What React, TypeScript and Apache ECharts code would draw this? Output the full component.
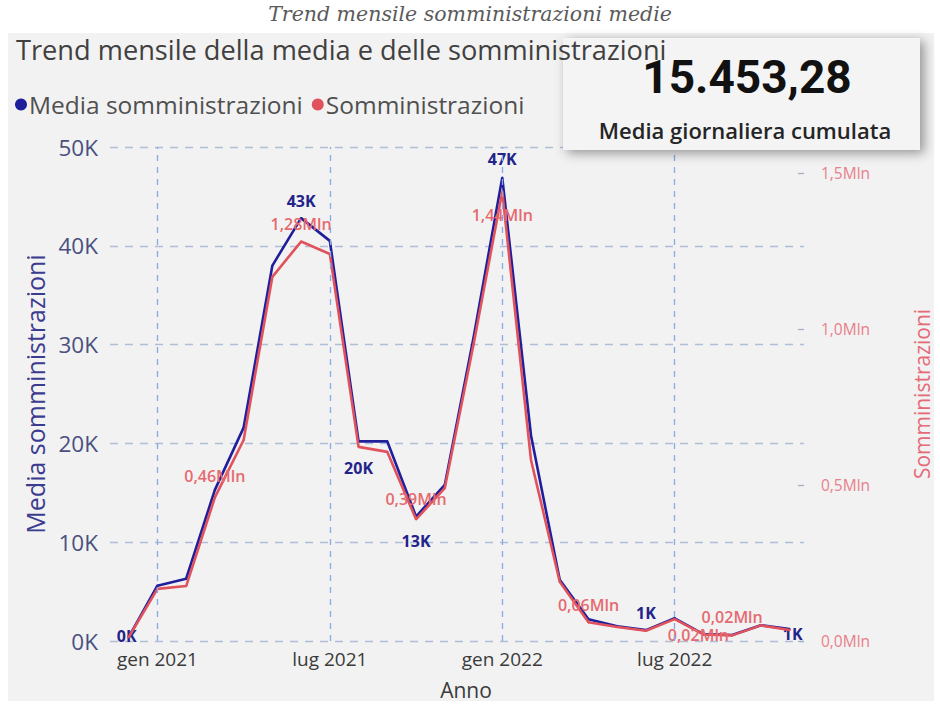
import React, { useEffect, useRef } from "react";
import * as echarts from "echarts";

// Month index: gen 2021 = 0
const monthIndex = [-1, 0, 1, 2, 3, 4, 5, 6, 7, 8, 9, 10, 11, 12, 13, 14, 15, 16, 17, 18, 19, 20, 21, 22];
const monthNames = [
  "dic 2020", "gen 2021", "feb 2021", "mar 2021", "apr 2021", "mag 2021", "giu 2021", "lug 2021",
  "ago 2021", "set 2021", "ott 2021", "nov 2021", "dic 2021", "gen 2022", "feb 2022", "mar 2022",
  "apr 2022", "mag 2022", "giu 2022", "lug 2022", "ago 2022", "set 2022", "ott 2022", "nov 2022",
];
// Media somministrazioni (thousands)
const mediaK = [0.4, 5.6, 6.3, 15.3, 21.6, 38.0, 42.8, 40.5, 20.2, 20.2, 12.6, 15.8, 30.7, 46.9, 20.8, 6.2, 2.2, 1.5, 1.1, 2.3, 0.7, 0.6, 1.6, 1.2];
// Somministrazioni (millions)
const sommMln = [0.012, 0.167, 0.176, 0.46, 0.644, 1.167, 1.28, 1.24, 0.622, 0.606, 0.39, 0.49, 0.95, 1.44, 0.58, 0.19, 0.06, 0.045, 0.033, 0.07, 0.021, 0.018, 0.05, 0.035];

const xTickValues = [0, 6, 12, 18];
const xTickLabels = ["gen 2021", "lug 2021", "gen 2022", "lug 2022"];
const rightTicks = [0, 0.5, 1.0, 1.5];

const kpiValue = "15.453,28";
const kpiLabel = "Media giornaliera cumulata";

// which points carry a data label, and where it goes
const mediaLabels: Record<number, any> = {
  0: { position: "inside", offset: [-2, -1] },
  6: { position: "top", distance: 8 },
  8: { position: "bottom", distance: 18 },
  10: { position: "bottom", distance: 15 },
  13: { position: "top", distance: 10 },
  18: { position: "top", distance: 8 },
  23: { position: "inside", offset: [3, 5] },
};
const sommLabels: Record<number, any> = {
  3: { position: "top", distance: 12 },
  6: { position: "top", distance: 9 },
  10: { position: "top", distance: 11 },
  13: { position: "bottom", distance: 14 },
  16: { position: "top", distance: 8 },
  20: { position: "inside", offset: [-5, 1] },
  21: { position: "top", distance: 9 },
};

const FONT = "'Open Sans', 'Noto Sans', sans-serif";
const BLUE = "#1f1f9c";
const RED = "#e0525c";

export default function App() {
  const ref = useRef<HTMLDivElement>(null);
  useEffect(() => {
    if (!ref.current) return;
    const chart = echarts.init(ref.current, null, { renderer: "svg" });

    const mediaData = monthIndex.map((m, i) => {
      const cfg = mediaLabels[i];
      return cfg
        ? { value: [m, mediaK[i]], label: { show: true, ...cfg } }
        : { value: [m, mediaK[i]] };
    });
    const sommData = monthIndex.map((m, i) => {
      const cfg = sommLabels[i];
      return cfg
        ? { value: [m, sommMln[i]], label: { show: true, ...cfg } }
        : { value: [m, sommMln[i]] };
    });

    chart.setOption({
      animation: false,
      backgroundColor: "#ffffff",
      textStyle: { fontFamily: FONT },
      title: [
        {
          text: "Trend mensile somministrazioni medie",
          left: "center",
          top: -1,
          textStyle: { fontFamily: "'DejaVu Serif', serif", fontStyle: "italic", fontWeight: "normal", fontSize: 20.5, color: "#5a5a5a" },
          z: 10,
        },
        {
          text: "Trend mensile della media e delle somministrazioni",
          left: 11,
          top: 31,
          textStyle: { fontFamily: FONT, fontWeight: "normal", fontSize: 27.2, color: "#404040" },
          z: 10,
        },
      ],
      legend: {
        data: ["Media somministrazioni", "Somministrazioni"],
        left: 10,
        top: 87,
        icon: "circle",
        itemWidth: 12,
        itemHeight: 12,
        itemGap: 9,
        textStyle: { fontFamily: FONT, fontSize: 24.5, color: "#505050", padding: [0, 0, 0, -3] },
        z: 10,
      },
      graphic: [
        {
          type: "rect",
          shape: { x: 8, y: 33, width: 926, height: 668 },
          style: { fill: "#f2f2f2" },
          z: -10,
          silent: true,
        },
        {
          type: "rect",
          shape: { x: 563, y: 38, width: 357, height: 112 },
          style: { fill: "#f4f4f4", shadowBlur: 12, shadowColor: "rgba(0,0,0,0.4)", shadowOffsetX: 4, shadowOffsetY: 3 },
          z: 8,
          silent: true,
        },
        {
          type: "text",
          x: 747,
          y: 77,
          style: { text: kpiValue, font: "bold 46px Roboto, 'Liberation Sans', sans-serif", fill: "#111111", align: "center", verticalAlign: "middle" },
          z: 9,
        },
        {
          type: "text",
          x: 745,
          y: 130,
          style: { text: kpiLabel, font: `600 22px ${FONT}`, fill: "#252525", align: "center", verticalAlign: "middle" },
          z: 9,
        },
      ],
      grid: { left: 110, right: 127, top: 147, bottom: 64, containLabel: false },
      xAxis: {
        type: "value",
        min: -1.65,
        max: 22.5,
        name: "Anno",
        nameLocation: "middle",
        nameGap: 38,
        nameTextStyle: { fontFamily: FONT, fontSize: 21, color: "#3a3a3a", padding: [0, 0, 0, 18] },
        axisLine: { show: false },
        axisTick: { show: false },
        splitLine: { show: false },
        axisLabel: {
          customValues: xTickValues,
          formatter: (v: number) => xTickLabels[xTickValues.indexOf(Math.round(v))] ?? "",
          fontFamily: FONT,
          fontSize: 19,
          color: "#3a3a3a",
          margin: 8,
        },
      },
      yAxis: [
        {
          type: "value",
          min: 0,
          max: 50,
          interval: 10,
          name: "Media somministrazioni",
          nameLocation: "middle",
          nameRotate: 90,
          nameGap: 63,
          nameTextStyle: { fontFamily: FONT, fontSize: 25, color: "#3b3b90" },
          axisLine: { show: false },
          axisTick: { show: false },
          axisLabel: { formatter: (v: number) => `${v}K`, fontFamily: FONT, fontSize: 22.5, color: "#4a4f7e", margin: 12 },
          splitLine: { show: true, lineStyle: { type: [8, 7], color: "#b0bfd8", width: 1.4 } },
        },
        {
          type: "value",
          min: 0,
          max: 1.583,
          position: "right",
          name: "Somministrazioni",
          nameLocation: "middle",
          nameRotate: 90,
          nameGap: 107,
          nameTextStyle: { fontFamily: FONT, fontSize: 21, color: "#e46a78" },
          axisLine: { show: false },
          axisTick: { show: true, inside: true, length: 6, customValues: rightTicks, lineStyle: { color: "#9fb0c8", width: 1.3 } },
          axisLabel: {
            customValues: rightTicks,
            formatter: (v: number) => `${v.toFixed(1).replace(".", ",")}Mln`,
            fontFamily: FONT,
            fontSize: 15.5,
            color: "#e8808a",
            margin: 17,
          },
          splitLine: { show: false },
        },
      ],
      series: [
        {
          type: "line",
          data: [],
          z: 1,
          silent: true,
          markLine: {
            silent: true,
            symbol: ["none", "none"],
            label: { show: false },
            lineStyle: { type: [6, 6], color: "#86aae2", width: 1.3 },
            data: xTickValues.map((v) => ({ xAxis: v })),
          },
        },
        {
          name: "Media somministrazioni",
          type: "line",
          yAxisIndex: 0,
          data: mediaData,
          symbol: "circle",
          symbolSize: 2,
          showSymbol: true,
          z: 3,
          lineStyle: { color: BLUE, width: 2.6 },
          itemStyle: { color: BLUE },
          label: {
            show: false,
            formatter: (p: any) => `${Math.round(p.value[1])}K`,
            fontFamily: FONT,
            fontSize: 16,
            fontWeight: "bold",
            color: "#23238a",
          },
        },
        {
          name: "Somministrazioni",
          type: "line",
          yAxisIndex: 1,
          data: sommData,
          symbol: "circle",
          symbolSize: 2,
          showSymbol: true,
          z: 4,
          lineStyle: { color: RED, width: 2.6 },
          itemStyle: { color: RED },
          label: {
            show: false,
            formatter: (p: any) => `${p.value[1].toFixed(2).replace(".", ",")}Mln`,
            fontFamily: FONT,
            fontSize: 16,
            fontWeight: 600,
            color: "#e56a70",
          },
        },
      ],
    });
    return () => chart.dispose();
  }, []);

  return <div ref={ref} style={{ position: "fixed", left: 0, top: 0, width: 940, height: 705 }} />;
}
